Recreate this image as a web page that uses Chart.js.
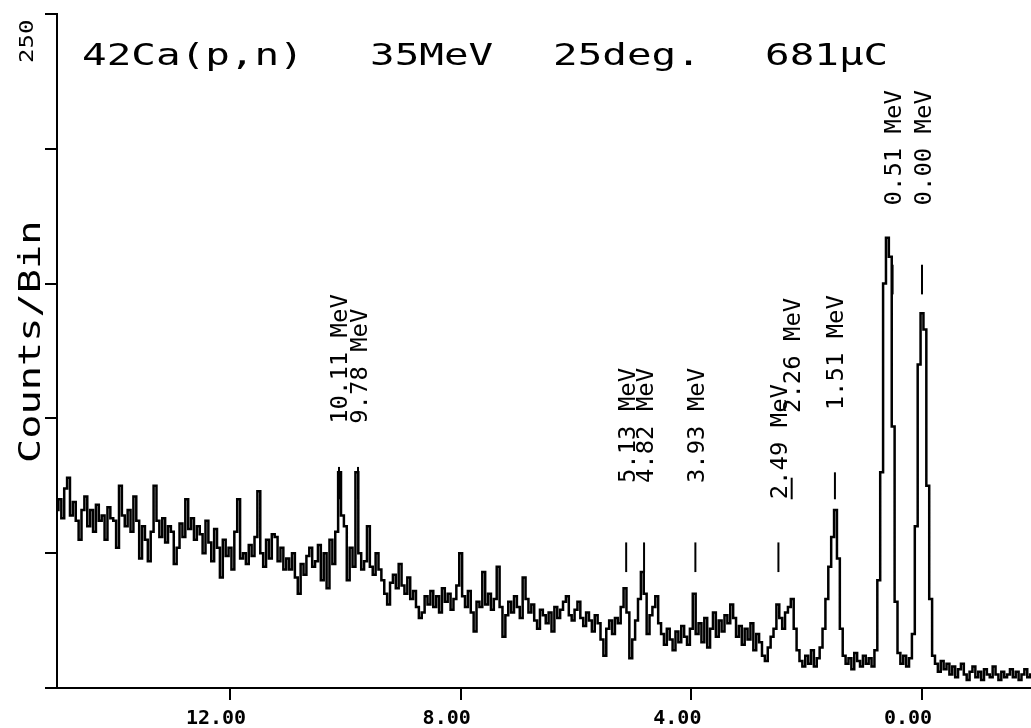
<!DOCTYPE html>
<html><head><meta charset="utf-8">
<script src="https://cdn.jsdelivr.net/npm/chart.js@4/dist/chart.umd.min.js"></script>
<style>html,body{margin:0;padding:0;background:#fff;overflow:hidden}canvas{display:block}</style>
</head><body>
<canvas id="c" width="1031" height="728"></canvas>
<script>
// ---- data ----
const titleParts = ["42Ca(p,n)", "35MeV", "25deg.", "681μC"];
const yAxisTitle = "Counts/Bin";
const yTopLabel = "250";
const xTickValues = [12, 8, 4, 0];
const binStartMeV = 15.0;
const binWidthMeV = 0.05;
// counts per bin, Ex = 15.00 ... 10.05 MeV
const countsA = [
  66,70,63,74,78,64,69,62,55,66,
  71,60,66,58,68,62,64,55,67,63,
  62,52,75,64,60,66,58,71,62,48,
  60,55,47,58,75,62,56,63,54,60,
  58,46,52,61,56,70,59,63,55,60,
  57,50,62,54,47,59,52,41,55,49,
  52,44,58,70,48,50,46,53,49,56,
  73,50,45,55,48,57,56,47,52,44,
  48,44,50,41,35,46,42,49,52,45,
  47,53,40,50,37,55,46,58,80,64
];
// Ex = 10.00 ... 5.05 MeV
const countsB = [
  60,40,52,45,80,50,44,47,60,45,
  42,50,44,40,35,31,39,42,37,46,
  38,35,41,33,36,30,26,28,34,31,
  36,30,34,28,37,32,35,29,33,38,
  50,34,30,36,28,21,32,30,43,31,
  35,29,33,45,30,19,27,32,28,34,
  30,26,41,33,28,31,25,22,29,27,
  24,28,21,30,26,29,32,34,27,25,
  29,32,26,23,28,25,21,27,24,18,
  12,22,25,20,26,24,30,37,28,11
];
// Ex = 5.00 ... 0.05 MeV
const countsC = [
  18,25,33,43,35,20,27,30,34,24,
  20,16,22,18,14,21,17,23,19,16,
  22,35,20,24,17,26,15,22,28,19,
  25,21,27,24,31,26,19,23,16,22,
  18,24,14,20,17,12,10,15,19,22,
  31,26,22,28,30,33,22,14,10,8,
  12,9,14,8,11,15,22,33,45,56,
  66,48,22,12,9,11,7,13,10,8,
  12,9,11,8,14,40,80,150,167,160,
  97,32,13,9,12,8,11,20,60,120
];
// Ex = 0.00 ... -1.90 MeV
const countsD = [
  139,133,75,33,12,9,6,10,7,9,
  5,8,4,7,9,5,3,6,8,4,
  6,3,7,5,4,8,5,3,6,4,
  5,7,4,6,3,5,7,4,5
];
const peakEnergies = [10.11, 9.78, 5.13, 4.82, 3.93, 2.49, 2.26, 1.51, 0.51, 0.00];
const peakLabels = ["10.11 MeV","9.78 MeV","5.13 MeV","4.82 MeV","3.93 MeV","2.49 MeV","2.26 MeV","1.51 MeV","0.51 MeV","0.00 MeV"];
const labelBaseCounts = [98, 98, 76, 76, 76, 70, 102, 103, 179, 179];
const markerTopCounts = [82, 82, 54, 54, 54, 54, 78, 80, 157, 157];
const markerBottomCounts = [70, 70, 43, 43, 43, 43, 70, 70, 146, 146];

// ---- build ----
const counts = countsA.concat(countsB, countsC, countsD);
const points = counts.map((c, i) => ({ x: +(binStartMeV - i * binWidthMeV).toFixed(2), y: c }));

const MONO = '"DejaVu Sans Mono", "Liberation Mono", monospace';
const TITLE_X = [82, 370, 553, 765];

const annotPlugin = {
  id: 'annot',
  afterDraw(chart) {
    const { ctx, scales: { x, y } } = chart;
    ctx.save();
    ctx.fillStyle = '#000';
    ctx.strokeStyle = '#000';
    ctx.textAlign = 'left';
    ctx.textBaseline = 'alphabetic';
    // title
    ctx.font = '31px ' + MONO;
    titleParts.forEach((t, i) => {
      ctx.save();
      ctx.translate(TITLE_X[i], 65);
      ctx.scale(1.32, 1);
      ctx.fillText(t, 0, 0);
      ctx.restore();
    });
    // y axis title
    ctx.save();
    ctx.translate(40, 463);
    ctx.rotate(-Math.PI / 2);
    ctx.scale(1.3, 1);
    ctx.fillText(yAxisTitle, 0, 0);
    ctx.restore();
    // top tick label
    ctx.save();
    ctx.translate(33, 63);
    ctx.rotate(-Math.PI / 2);
    ctx.font = '20px ' + MONO;
    ctx.scale(1.2, 1);
    ctx.fillText(yTopLabel, 0, 0);
    ctx.restore();
    // peak markers and labels
    ctx.lineWidth = 2;
    peakEnergies.forEach((e, i) => {
      const px = x.getPixelForValue(e);
      ctx.beginPath();
      ctx.moveTo(px, y.getPixelForValue(markerTopCounts[i]));
      ctx.lineTo(px, y.getPixelForValue(markerBottomCounts[i]));
      ctx.stroke();
      ctx.save();
      ctx.translate(px + 8.5, y.getPixelForValue(labelBaseCounts[i]));
      ctx.rotate(-Math.PI / 2);
      ctx.font = '23px ' + MONO;
      ctx.scale(1.04, 1);
      ctx.fillText(peakLabels[i], 0, 0);
      ctx.restore();
    });
    ctx.restore();
  }
};

new Chart(document.getElementById('c'), {
  type: 'line',
  data: {
    datasets: [{
      data: points,
      borderColor: '#000',
      borderWidth: 2.5,
      pointRadius: 0,
      stepped: 'middle',
      fill: false
    }]
  },
  options: {
    responsive: false,
    animation: false,
    devicePixelRatio: 1,
    layout: { padding: { top: 14, right: 0, left: 0, bottom: 0 } },
    plugins: { legend: { display: false }, tooltip: { enabled: false }, title: { display: false } },
    scales: {
      x: {
        type: 'linear',
        reverse: true,
        min: -1.89,
        max: 15,
        afterFit(s) { s.height = 40; },
        afterBuildTicks(s) { s.ticks = xTickValues.map(v => ({ value: v })); },
        border: { display: true, color: '#000', width: 2 },
        grid: { display: true, drawOnChartArea: false, drawTicks: true, tickLength: 12, color: '#000', lineWidth: 2 },
        ticks: {
          color: '#000',
          font: { family: MONO, size: 20, weight: 'bold' },
          padding: 7,
          labelOffset: -14,
          maxRotation: 0,
          callback: v => Number(v).toFixed(2)
        }
      },
      y: {
        type: 'linear',
        min: 0,
        max: 250,
        afterFit(s) { s.width = 57; },
        border: { display: true, color: '#000', width: 2 },
        grid: { display: true, drawOnChartArea: false, drawTicks: true, tickLength: 12, color: '#000', lineWidth: 2 },
        ticks: { stepSize: 50, display: false }
      }
    }
  },
  plugins: [annotPlugin]
});
</script>
</body></html>
